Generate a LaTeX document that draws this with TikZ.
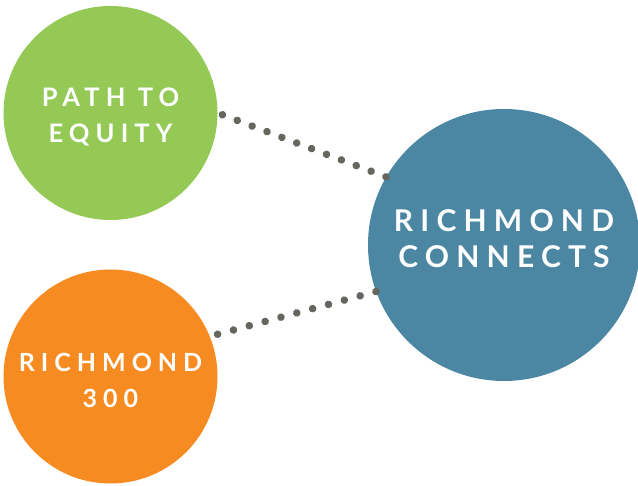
\documentclass[tikz,border=0pt]{standalone}
\usepackage{fontspec}
\setmainfont{Lato}
\newfontfamily\bubblefont{Lato}[LetterSpace=24]
\usetikzlibrary{calc,decorations.markings}

\definecolor{pathgreen}{HTML}{94C955}
\definecolor{rvaorange}{HTML}{F68B22}
\definecolor{connectblue}{HTML}{4B87A2}
\definecolor{dotgray}{HTML}{66665F}

\begin{document}
\begin{tikzpicture}[x=1pt,y=1pt]
  \tikzset{
    bubble/.style={circle, inner sep=0pt},
    small/.style={bubble, minimum size=214pt},
    big/.style={bubble, minimum size=272pt},
    caption/.style={text=white, align=center, inner sep=0pt, font=\bubblefont\bfseries\fontsize{#1}{36}\selectfont},
    link/.style={decoration={markings, mark=between positions 0 and 1 step #1 with {\fill[dotgray] (0,0) circle (3.8pt);}}, decorate}
  }
  \useasboundingbox (0,0) rectangle (638,486);
  \node [small, fill=pathgreen] (equity) at (110.5,373) {};
  \node [small, fill=rvaorange] (rva) at (110.5,109.5) {};
  \node [big, fill=connectblue] (connects) at (504,241) {};

  \node [caption=25.5] (equity text) at ([yshift=-4pt]equity) {PATH TO\\EQUITY};
  \node [caption=25] (rva text) at ([yshift=-4pt]rva) {RICHMOND\\300};
  \node [caption=30] (connects text) at ([yshift=6pt]connects) {RICHMOND\\CONNECTS};

  \path [link=0.09088] ($(equity.east)!5pt!(connects.150)$) -- (connects.150);
  %dots stop on the rim
  \path [link=0.09999] ($(rva.22)!8pt!(connects.200)$) -- (connects.200);
\end{tikzpicture}
\end{document}
